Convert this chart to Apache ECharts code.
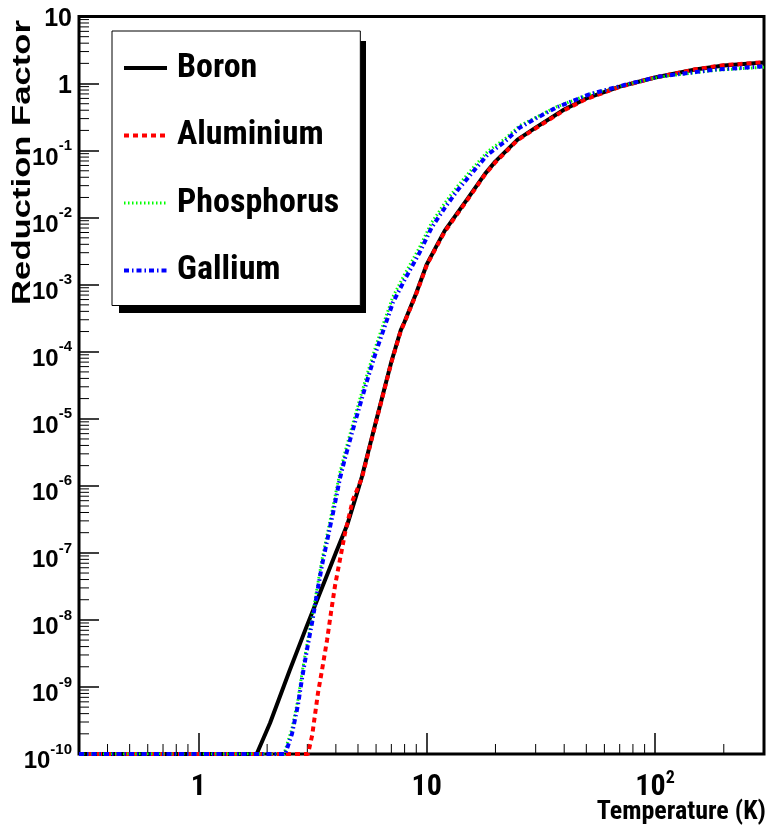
<!DOCTYPE html>
<html>
<head>
<meta charset="utf-8">
<title>Reduction Factor vs Temperature</title>
<script src="https://cdn.jsdelivr.net/npm/echarts@6/dist/echarts.min.js"></script>
<style>
  html, body { margin: 0; padding: 0; background: #fff; }
  #chart { width: 768px; height: 832px; }
</style>
</head>
<body>
<div id="chart"></div>
<script>
// Temperature (K) and reduction factor for each dopant
const boronT = [0.3, 1.8, 2.06, 2.5, 3, 4, 4.5, 5, 5.2, 6, 7, 7.7, 8, 9, 10, 11, 12, 15, 18, 20, 25, 30, 40, 50, 70, 100, 150, 200, 300];
const boronR = [1e-10, 1e-10, 2.9e-10, 1.7e-9, 8.5e-9, 1.0e-7, 2.7e-7, 8.7e-7, 1.36e-6, 9.3e-6, 7.1e-5, 2.1e-4, 2.8e-4, 7.5e-4, 2.0e-3, 3.7e-3, 6.4e-3, 0.0186, 0.045, 0.069, 0.146, 0.22, 0.41, 0.60, 0.90, 1.23, 1.62, 1.86, 2.06];

const aluminiumT = [0.3, 3.02, 3.15, 3.34, 3.48, 3.66, 3.81, 3.97, 4.39, 4.75, 5.2, 6, 7, 7.7, 8, 9, 10, 11, 12, 15, 18, 20, 25, 30, 40, 50, 70, 100, 150, 200, 300];
const aluminiumR = [1e-10, 1e-10, 1.9e-10, 8.1e-10, 1.8e-9, 5.0e-9, 1.3e-8, 3.3e-8, 2.0e-7, 6.2e-7, 1.3e-6, 9.0e-6, 6.9e-5, 2.05e-4, 2.75e-4, 7.3e-4, 1.95e-3, 3.6e-3, 6.2e-3, 0.018, 0.044, 0.067, 0.143, 0.215, 0.40, 0.59, 0.89, 1.23, 1.63, 1.88, 2.08];

const phosphorusT = [0.3, 2.37, 2.57, 2.73, 2.85, 2.99, 3.15, 3.31, 3.48, 3.89, 4.17, 4.39, 4.75, 5.1, 5.53, 5.98, 6.43, 7.11, 8.02, 9.3, 10.5, 12, 13.7, 16, 18.5, 22, 25.5, 30.5, 37, 51.5, 75, 104, 185, 300];
const phosphorusR = [1e-10, 1e-10, 2.4e-10, 6.5e-10, 1.7e-9, 4.3e-9, 1.1e-8, 3.0e-8, 8.0e-8, 5.0e-7, 1.6e-6, 3.2e-6, 8.5e-6, 2.0e-5, 5.1e-5, 1.2e-4, 2.5e-4, 6.6e-4, 1.45e-3, 3.6e-3, 8.4e-3, 0.0165, 0.030, 0.056, 0.097, 0.15, 0.235, 0.32, 0.45, 0.69, 0.96, 1.25, 1.58, 1.75];

const galliumT = [0.3, 2.40, 2.57, 2.73, 2.85, 2.99, 3.15, 3.31, 3.48, 3.89, 4.17, 4.39, 4.75, 5.1, 5.53, 5.98, 6.43, 7.11, 8.02, 9.3, 10.5, 12, 13.7, 16, 18.5, 22, 25.5, 30.5, 37, 51.5, 75, 104, 185, 300];
const galliumR = [1e-10, 1e-10, 2.0e-10, 5.4e-10, 1.4e-9, 3.6e-9, 9.3e-9, 2.5e-8, 6.6e-8, 4.0e-7, 1.3e-6, 2.6e-6, 6.9e-6, 1.6e-5, 4.1e-5, 9.7e-5, 2.0e-4, 5.4e-4, 1.2e-3, 3.0e-3, 7.1e-3, 0.014, 0.026, 0.049, 0.087, 0.136, 0.22, 0.31, 0.44, 0.69, 0.97, 1.27, 1.62, 1.80];

const seriesNames = ['Boron', 'Aluminium', 'Phosphorus', 'Gallium'];

// Axis ranges and minor tick mantissas
const xRange = [0.3, 300];
const yRange = [1e-10, 10];
const mantissas = [2, 3, 4, 5, 6, 7, 8, 9];
const xDecades = [0.1, 1, 10, 100];
const yDecades = [1e-10, 1e-9, 1e-8, 1e-7, 1e-6, 1e-5, 1e-4, 1e-3, 1e-2, 1e-1, 1];

const xMinor = [];
xDecades.forEach(d => mantissas.forEach(m => {
  const v = +(m * d).toPrecision(3);
  if (v > xRange[0] && v < xRange[1]) xMinor.push(v);
}));
const yMinor = [];
yDecades.forEach(d => mantissas.forEach(m => yMinor.push(+(m * d).toPrecision(3))));

// Condensed bold face for legend, x labels and x title
const COND = 'Roboto, "Open Sans", sans-serif';
const SANS = '"Liberation Sans", Arial, Helvetica, sans-serif';

function pairs(t, r) { return t.map((v, i) => [v, r[i]]); }

function decadeExponent(value) {
  const lg = Math.log10(value);
  const n = Math.round(lg);
  return Math.abs(lg - n) > 1e-6 ? null : n;
}

function xLabel(value) {
  const n = decadeExponent(value);
  if (n === null) return '';
  if (n === 0) return '{b|1}';
  if (n === 1) return '{b|10}';
  return '{b|10}{s|' + n + '}';
}

function yLabel(value) {
  const n = decadeExponent(value);
  if (n === null) return '';
  if (n === 0) return '1';
  if (n === 1) return '10';
  return '{b|10}{s|' + n + '}';
}

function minorTickSeries(values, onX) {
  return {
    type: 'custom',
    silent: true,
    z: 1,
    data: values.map(v => onX ? [v, yRange[0]] : [xRange[0], v]),
    renderItem: function (params, api) {
      const p = api.coord([api.value(0), api.value(1)]);
      return {
        type: 'line',
        shape: onX
          ? { x1: p[0], y1: p[1], x2: p[0], y2: p[1] - 10 }
          : { x1: p[0], y1: p[1], x2: p[0] + 10, y2: p[1] },
        style: { stroke: '#000', lineWidth: 1 }
      };
    }
  };
}

const chart = echarts.init(document.getElementById('chart'), null, { renderer: 'canvas' });

chart.setOption({
  animation: false,
  backgroundColor: '#fff',
  grid: {
    left: 79, right: 4, top: 16.5, bottom: 78,
    show: true, borderColor: '#000', borderWidth: 3, backgroundColor: 'transparent'
  },
  legend: {
    orient: 'vertical',
    left: 112, top: 31,
    z: 4,
    data: seriesNames,
    itemWidth: 43, itemHeight: 14, itemGap: 27.5,
    padding: [17, 21, 15, 10],
    backgroundColor: '#fff',
    borderColor: '#000', borderWidth: 1, borderRadius: 0,
    selectedMode: false,
    itemStyle: { opacity: 0 },
    lineStyle: { width: 'inherit' },
    textStyle: {
      fontStyle: 'condensed', fontFamily: COND, fontWeight: 'bold', fontSize: 34, color: '#000',
      lineHeight: 40, padding: [0, 0, 0, 5]
    }
  },
  xAxis: {
    type: 'log', logBase: 10,
    min: xRange[0], max: xRange[1], splitNumber: 3,
    axisLine: { show: false },
    splitLine: { show: false },
    axisTick: { inside: true, length: 21, lineStyle: { color: '#000', width: 1.5 } },
    axisLabel: {
      margin: 15, color: '#000',
      showMinLabel: false, showMaxLabel: false,
      formatter: xLabel,
      rich: {
        b: { fontStyle: 'condensed', fontFamily: COND, fontWeight: 'bold', fontSize: 30, lineHeight: 30, padding: [6, 0, 0, 0], color: '#000' },
        s: { fontStyle: 'condensed', fontFamily: COND, fontWeight: 'bold', fontSize: 18, lineHeight: 18, padding: [0, 0, 12, 0], color: '#000' }
      }
    }
  },
  yAxis: {
    type: 'log', logBase: 10,
    min: yRange[0], max: yRange[1], splitNumber: 11, interval: 1,
    axisLine: { show: false },
    splitLine: { show: false },
    axisTick: { inside: true, length: 20, lineStyle: { color: '#000', width: 1.5 } },
    axisLabel: {
      margin: 7, color: '#000', interval: 0,
      padding: [5, 0, 0, 0],
      fontFamily: SANS, fontWeight: 'bold', fontSize: 25, lineHeight: 25,
      formatter: yLabel,
      rich: {
        b: { fontFamily: SANS, fontWeight: 'bold', fontSize: 24, lineHeight: 24, padding: [10, 0, 0, 0], color: '#000' },
        s: { fontFamily: SANS, fontWeight: 'bold', fontSize: 15, lineHeight: 15, padding: [0, 0, 14, 0], color: '#000' }
      }
    }
  },
  graphic: [
    {
      // legend drop shadow
      type: 'rect', z: 3,
      shape: { x: 119, y: 41, width: 247, height: 272 },
      style: { fill: '#000' }
    },
    {
      type: 'text',
      x: 23, y: 20,
      rotation: Math.PI / 2,
      scaleX: 1.386,
      style: {
        text: 'Reduction Factor',
        font: 'bold 25px ' + SANS,
        fill: '#000',
        align: 'right',
        verticalAlign: 'middle'
      }
    },
    {
      type: 'text',
      x: 766, y: 812,
      style: {
        text: 'Temperature (K)',
        font: 'condensed bold 26px ' + COND,
        fill: '#000',
        align: 'right',
        verticalAlign: 'middle'
      }
    }
  ],
  series: [
    {
      name: 'Boron', type: 'line', symbol: 'none',
      data: pairs(boronT, boronR),
      itemStyle: { color: '#000' },
      lineStyle: { color: '#000', width: 4 }
    },
    {
      name: 'Aluminium', type: 'line', symbol: 'none',
      data: pairs(aluminiumT, aluminiumR),
      itemStyle: { color: '#ff0000' },
      lineStyle: { color: '#ff0000', width: 4, type: [5, 4] }
    },
    {
      name: 'Phosphorus', type: 'line', symbol: 'none',
      data: pairs(phosphorusT, phosphorusR),
      itemStyle: { color: '#00ff00' },
      lineStyle: { color: '#00ff00', width: 3, type: [1.5, 2.5] }
    },
    {
      name: 'Gallium', type: 'line', symbol: 'none',
      data: pairs(galliumT, galliumR),
      itemStyle: { color: '#0000ff' },
      lineStyle: { color: '#0000ff', width: 4, type: [5, 3, 1.5, 3] }
    },
    minorTickSeries(xMinor, true),
    minorTickSeries(yMinor, false)
  ]
});
</script>
</body>
</html>
